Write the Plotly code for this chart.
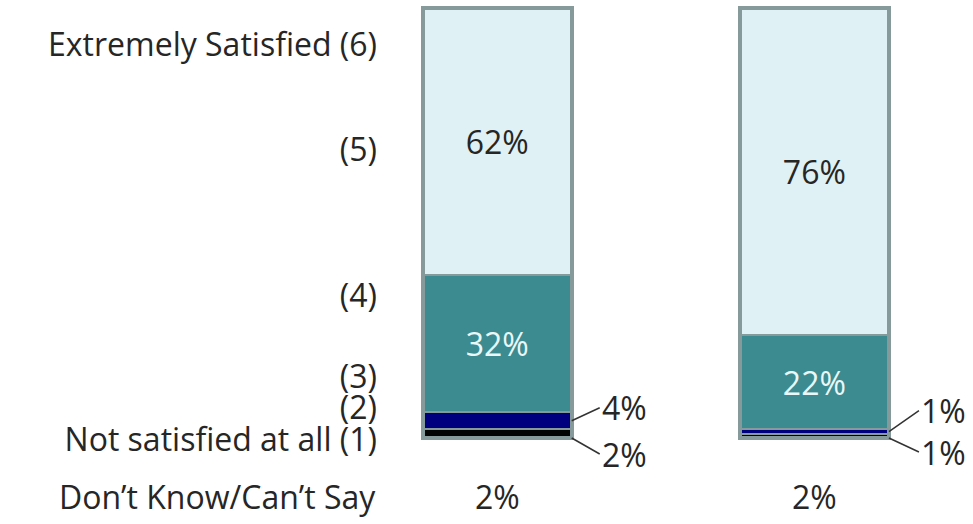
import plotly.graph_objects as go

groups = ["Group 1", "Group 2"]
not_satisfied_1 = [2, 1]
rating_2 = [4, 1]
rating_3_4 = [32, 22]
rating_5_6 = [62, 76]
dont_know = [2, 2]

scale_labels = ["Extremely Satisfied (6)", "(5)", "(4)", "(3)", "(2)", "Not satisfied at all (1)"]
scale_positions = [91.4, 67, 33, 14.2, 7, -0.5]

FONT = "Open Sans"
FS = 32
TXT = "#262626"
border = "#86999b"
xi = [0, 1]
bw = 0.47

fig = go.Figure()
series = [
    (not_satisfied_1, "#030303", None, None),
    (rating_2, "#00007e", None, None),
    (rating_3_4, "#3b8b90", True, "#eaf7f7"),
    (rating_5_6, "#dff1f4", True, TXT),
]
for vals, col, show, tcol in series:
    fig.add_trace(go.Bar(
        x=xi, y=vals, width=bw,
        marker=dict(color=col, line=dict(color=border, width=2)),
        text=[f"{v}%" for v in vals] if show else None,
        textposition="inside" if show else "none",
        insidetextanchor="middle",
        textfont=dict(family=FONT, size=FS, color=tcol),
        hoverinfo="skip", showlegend=False,
    ))

# outer frame of each bar (total of all segments)
totals = [a + b + c + d for a, b, c, d in zip(not_satisfied_1, rating_2, rating_3_4, rating_5_6)]
fig.add_trace(go.Bar(
    x=xi, y=totals, width=bw, xaxis="x2",
    marker=dict(color="rgba(0,0,0,0)", line=dict(color=border, width=4)),
    hoverinfo="skip", showlegend=False,
))

# outside labels with leader lines
upper_ay = [-13, -21]
lower_ay = [16, 14]
label_ax = [28, 30]
for i in range(2):
    xr = xi[i] + bw / 2
    fig.add_annotation(x=xr, y=not_satisfied_1[i] + rating_2[i] / 2,
                       text=f"{rating_2[i]}%", showarrow=True, arrowhead=0,
                       arrowwidth=1.5, arrowcolor="#333", ax=label_ax[i], ay=upper_ay[i],
                       xanchor="left", font=dict(family=FONT, size=FS, color=TXT))
    fig.add_annotation(x=xr, y=0, text=f"{not_satisfied_1[i]}%", showarrow=True,
                       arrowhead=0, arrowwidth=1.5, arrowcolor="#333", ax=label_ax[i], ay=lower_ay[i],
                       xanchor="left", font=dict(family=FONT, size=FS, color=TXT))
    fig.add_annotation(x=xi[i], y=-13.7, text=f"{dont_know[i]}%", showarrow=False,
                       font=dict(family=FONT, size=FS, color=TXT))

fig.add_annotation(x=0, xref="paper", xanchor="right", xshift=-24, y=-13.7,
                   text="Don’t Know/Can’t Say", showarrow=False,
                   font=dict(family=FONT, size=FS, color=TXT))

fig.update_layout(
    barmode="stack", width=973, height=524,
    margin=dict(l=402, r=0, t=0, b=0),
    plot_bgcolor="white", paper_bgcolor="white",
    xaxis=dict(range=[-0.3, 1.5], showticklabels=False, showgrid=False,
               zeroline=False, showline=False),
    xaxis2=dict(range=[-0.3, 1.5], overlaying="x", visible=False),
    yaxis=dict(range=[-20, 101.86], tickmode="array", tickvals=scale_positions,
               ticktext=scale_labels, showgrid=False, zeroline=False, showline=False,
               ticks="", ticklabelstandoff=24,
               tickfont=dict(family=FONT, size=FS, color=TXT)),
)
fig.write_html("out.html")
